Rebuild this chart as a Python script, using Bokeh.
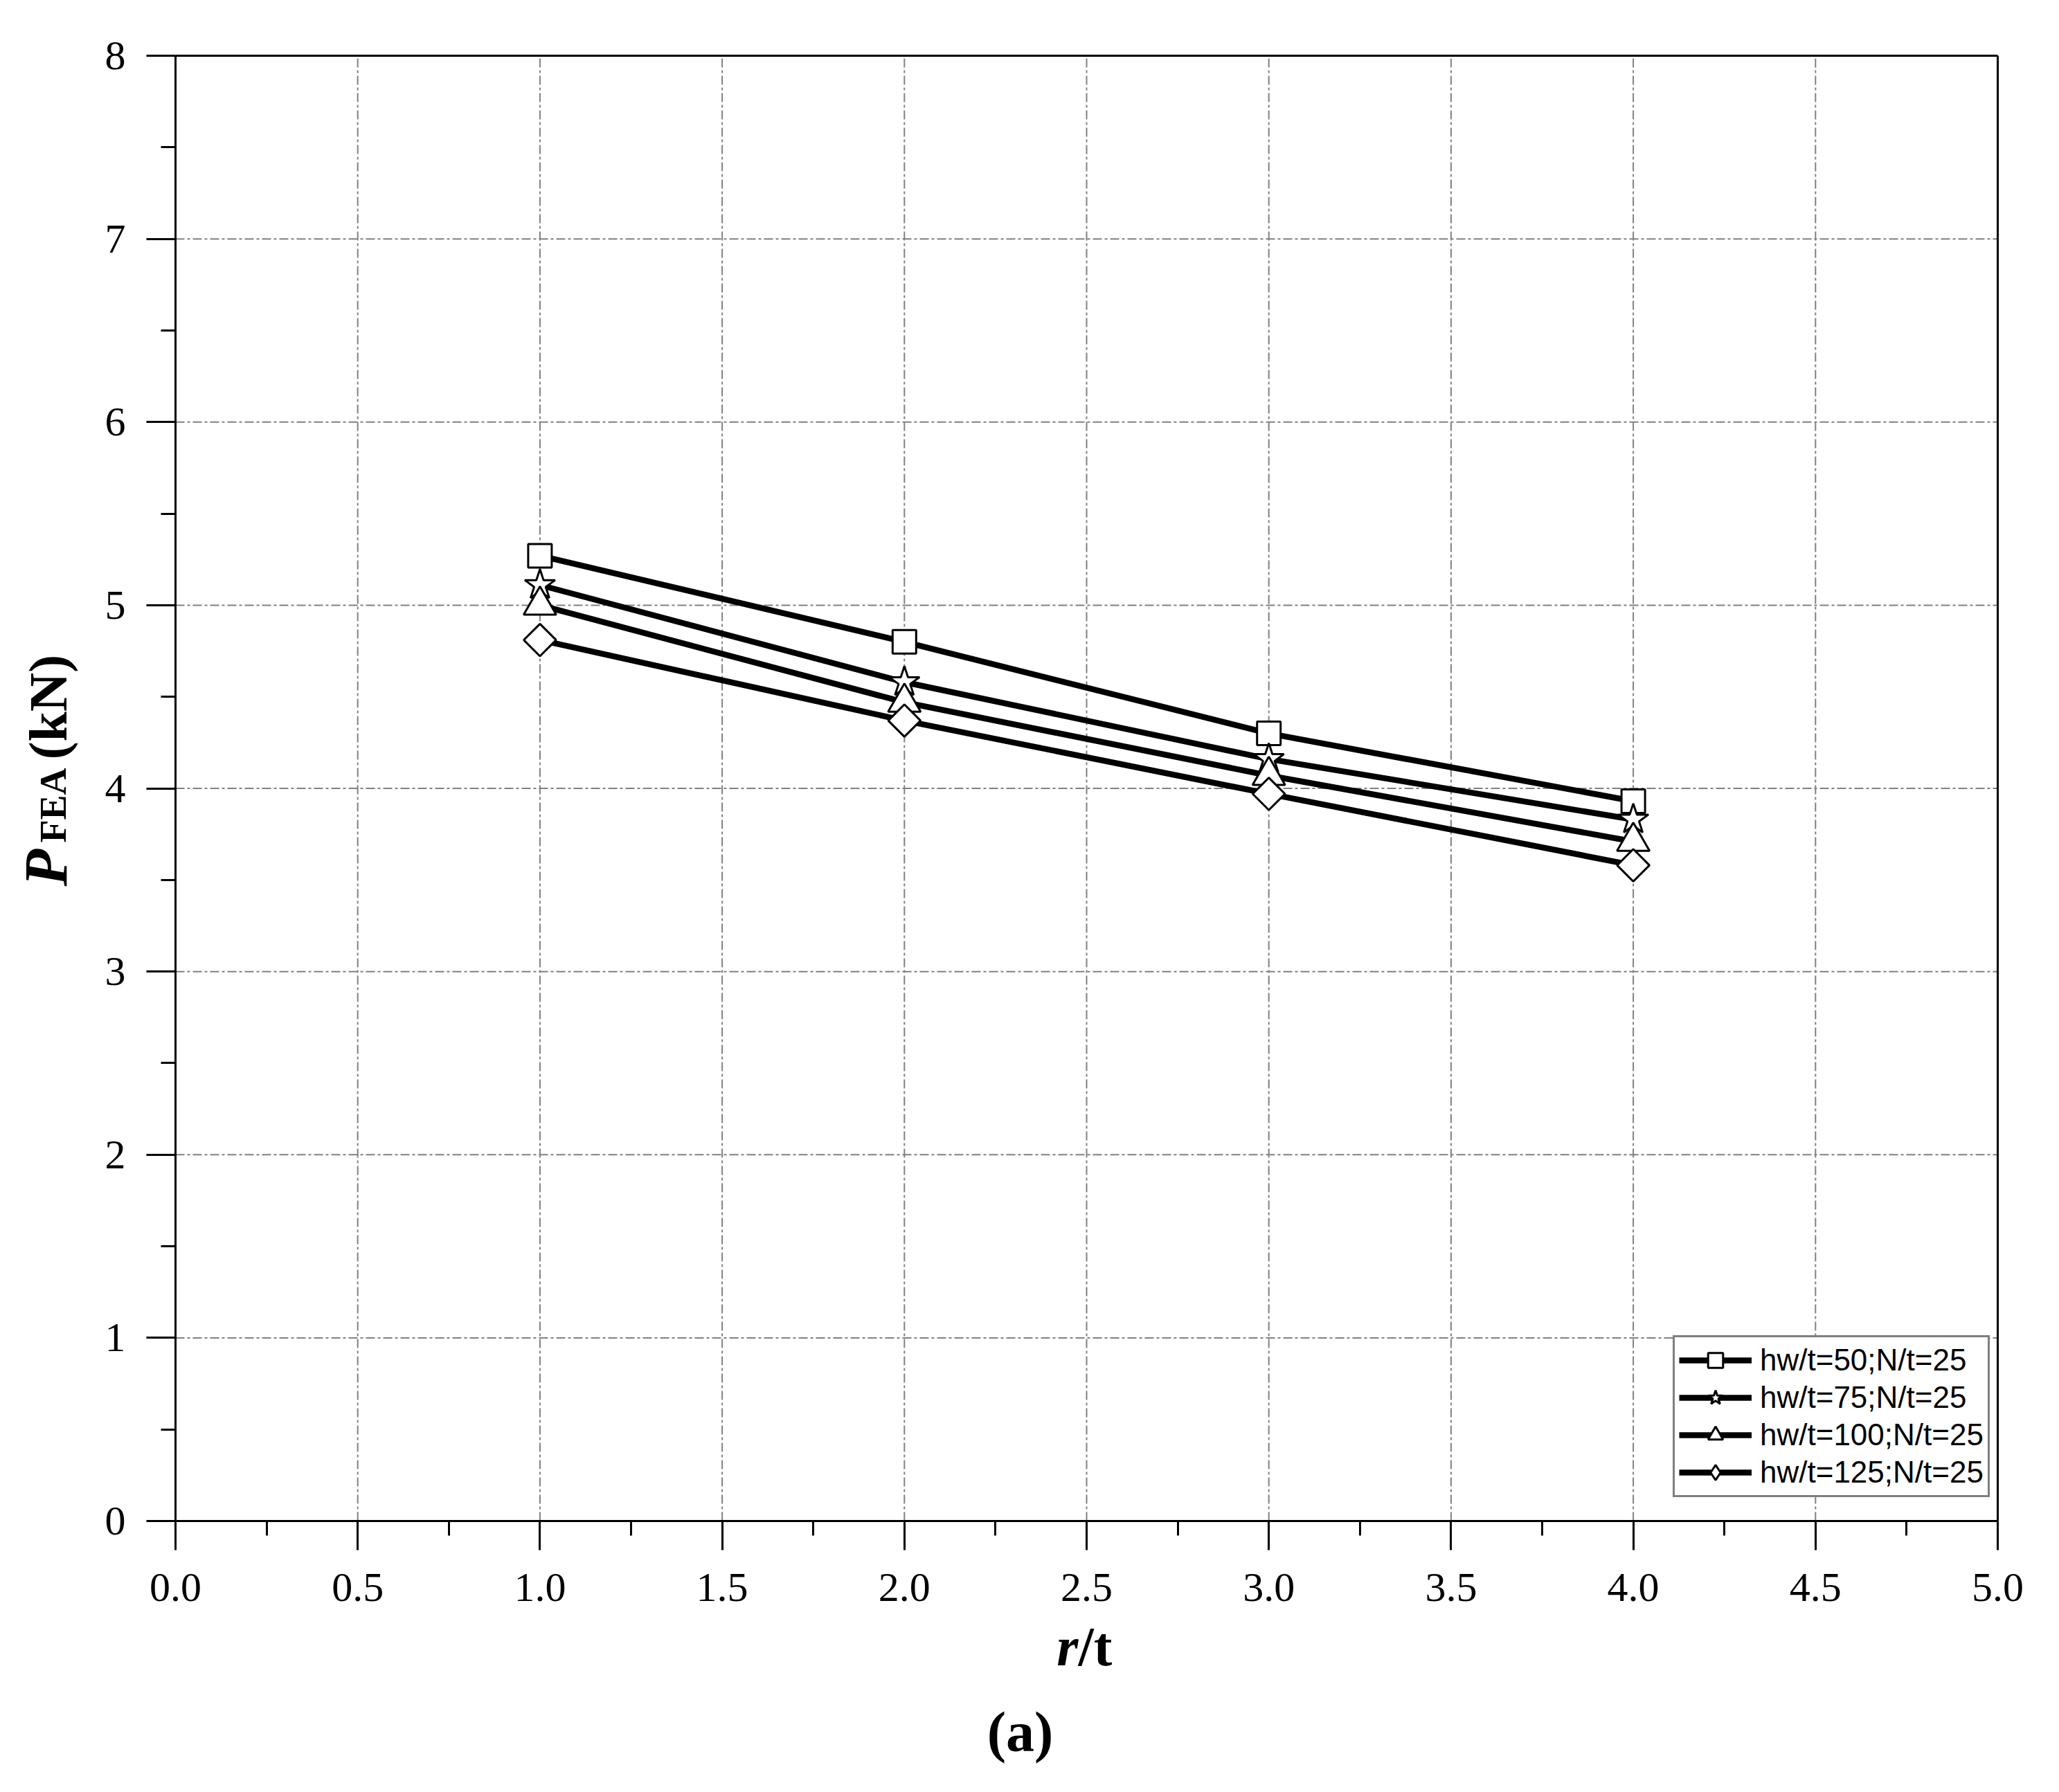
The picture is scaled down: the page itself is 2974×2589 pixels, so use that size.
import math
from bokeh.plotting import figure
from bokeh.models import (FixedTicker, Label, Legend, LegendItem, Range1d, PrintfTickFormatter,
                          LinearAxis, ColumnDataSource)
from bokeh.embed import file_html
from bokeh.resources import INLINE

# ---- data ----
rt = [1.0, 2.0, 3.0, 4.0]
p_hw50 = [5.27, 4.80, 4.30, 3.93]
p_hw75 = [5.11, 4.58, 4.16, 3.83]
p_hw100 = [5.00, 4.47, 4.07, 3.71]
p_hw125 = [4.81, 4.37, 3.97, 3.58]
series_labels = ["hw/t=50;N/t=25", "hw/t=75;N/t=25", "hw/t=100;N/t=25", "hw/t=125;N/t=25"]
x_ticks = [0.0, 0.5, 1.0, 1.5, 2.0, 2.5, 3.0, 3.5, 4.0, 4.5, 5.0]
y_ticks = [0, 1, 2, 3, 4, 5, 6, 7, 8]
X0, X1 = 0.0, 5.0
Y0, Y1 = 0.0, 8.0

# ---- layout (pixels) ----
W, H = 2974, 2589
FL, FR, FT, FB = 253, 2885, 80, 2197      # plot-area box on the canvas
sx = (FR - FL) / (X1 - X0)
sy = (FB - FT) / (Y1 - Y0)


def dx(px):
    return X0 + (px - FL) / sx


def dy(py):
    return Y0 + (FB - py) / sy


SERIF = "Liberation Serif"
SANS = "Liberation Sans"

p = figure(width=W, height=H,
           x_range=Range1d(dx(0), dx(W)), y_range=Range1d(dy(H), dy(0)),
           output_backend="svg", toolbar_location=None,
           min_border_left=0, min_border_right=0, min_border_top=0, min_border_bottom=0)
p.title.visible = False
p.background_fill_color = "white"
p.border_fill_color = "white"
p.outline_line_color = None
p.xgrid.visible = False
p.ygrid.visible = False

x_minor = [(a + b) / 2 for a, b in zip(x_ticks[:-1], x_ticks[1:])]
y_minor = [(a + b) / 2 for a, b in zip(y_ticks[:-1], y_ticks[1:])]

xax = p.xaxis[0]
yax = p.yaxis[0]
xax.ticker = FixedTicker(ticks=x_ticks, minor_ticks=x_minor)
yax.ticker = FixedTicker(ticks=y_ticks, minor_ticks=y_minor)
xax.formatter = PrintfTickFormatter(format="%.1f")
xax.fixed_location = Y0
yax.fixed_location = X0
xax.bounds = (X0, X1)
yax.bounds = (Y0, Y1)

for ax in (xax, yax):
    ax.axis_line_color = "black"
    ax.axis_line_width = 3
    ax.major_tick_line_color = "black"
    ax.major_tick_line_width = 3
    ax.minor_tick_line_color = "black"
    ax.minor_tick_line_width = 3
    ax.major_tick_out = 42
    ax.major_tick_in = 0
    ax.minor_tick_out = 21
    ax.minor_tick_in = 0
    ax.major_label_text_font = SERIF
    ax.major_label_text_font_size = "60px"
    ax.major_label_text_color = "black"
xax.major_label_standoff = 34
yax.major_label_standoff = 30

# top and right frame lines
top_ax = LinearAxis(fixed_location=Y1, bounds=(X0, X1), ticker=FixedTicker(ticks=[]),
                    axis_line_color="black", axis_line_width=3,
                    major_tick_line_color=None, minor_tick_line_color=None)
right_ax = LinearAxis(fixed_location=X1, bounds=(Y0, Y1), ticker=FixedTicker(ticks=[]),
                      axis_line_color="black", axis_line_width=3,
                      major_tick_line_color=None, minor_tick_line_color=None)
p.add_layout(top_ax, "above")
p.add_layout(right_ax, "right")

# dash-dot grid inside the plot box
gx = [t for t in x_ticks if X0 < t < X1]
gy = [t for t in y_ticks if Y0 < t < Y1]
grid_src_x = ColumnDataSource(dict(x0=gx, y0=[Y0] * len(gx), x1=gx, y1=[Y1] * len(gx)))
grid_src_y = ColumnDataSource(dict(x0=[X0] * len(gy), y0=gy, x1=[X1] * len(gy), y1=gy))
for src in (grid_src_x, grid_src_y):
    p.segment(x0="x0", y0="y0", x1="x1", y1="y1", source=src, line_color="#808080",
              line_width=2, line_dash="13 4 4 4", level="underlay")

series = [p_hw50, p_hw75, p_hw100, p_hw125]
line_rs = [p.line(rt, ys, line_color="black", line_width=8.5) for ys in series]

mk = dict(fill_color="white", line_color="black", line_width=3)
m1 = p.scatter(rt, p_hw50, marker="square", size=34, **mk)
m2 = p.scatter(rt, p_hw75, marker="star", size=46, **mk)
m3 = p.scatter(rt, p_hw100, marker="triangle", size=47, **mk)
# diamond glyph for the legend (legend markers are not rotated); it lies fully
# underneath the rotated square drawn on top of it
m4_leg = p.scatter(rt, p_hw125, marker="diamond", size=42, **mk)
m4 = p.scatter(rt, p_hw125, marker="square", angle=math.pi / 4, size=33, **mk)
legend_markers = [m1, m2, m3, m4_leg]

items = [LegendItem(label=lab, renderers=[lr, mr])
         for lab, lr, mr in zip(series_labels, line_rs, legend_markers)]
legend = Legend(items=items, location=(2416, H - 2163), glyph_width=105, glyph_height=54,
                label_height=54, label_standoff=12, padding=6, spacing=0, margin=0,
                border_line_color="black", border_line_width=3, background_fill_color="white",
                background_fill_alpha=1.0,
                label_text_font=SANS, label_text_font_size="44px", label_text_color="black")
p.add_layout(legend)

# axis titles and caption (mixed styles -> several labels)
base = dict(text_color="black", text_font=SERIF, text_baseline="alphabetic")
p.add_layout(Label(x=dx(1557), y=dy(2378), text="r", text_align="right",
                   text_font_size="80px", text_font_style="bold italic", **base))
p.add_layout(Label(x=dx(1557), y=dy(2378), text="/t", text_align="left",
                   text_font_size="80px", text_font_style="bold", **base))
p.add_layout(Label(x=dx(1473), y=dy(2502), text="(a)", text_align="center",
                   text_font_size="82px", text_font_style="bold", **base))

ang = math.pi / 2
p.add_layout(Label(x=dx(66), y=dy(1280), text="P", angle=ang, text_align="left",
                   text_font_size="88px", text_font_style="bold italic", **base))
p.add_layout(Label(x=dx(76), y=dy(1217), text="FEA", angle=ang, text_align="left",
                   text_font_size="54px", text_font_style="bold", **base))
p.add_layout(Label(x=dx(69), y=dy(1097), text="(kN)", angle=ang, text_align="left",
                   text_font_size="78px", text_font_style="bold", **base))

open("out.html", "w").write(file_html(p, INLINE))
